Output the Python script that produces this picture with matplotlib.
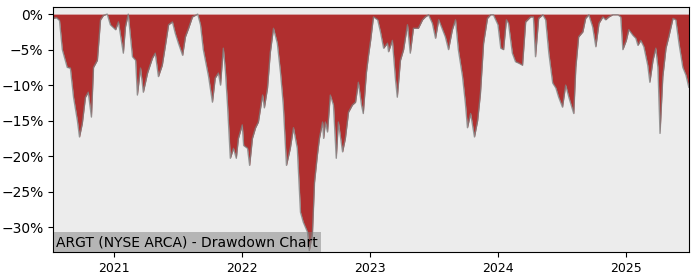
import numpy as np
import pandas as pd
import matplotlib
matplotlib.use("Agg")
import matplotlib.pyplot as plt
import matplotlib.dates as mdates
import matplotlib.ticker as mticker

# drawdown readings (percent below running peak)
dates = [
    "2020-07-13", "2020-07-22", "2020-07-31", "2020-08-08", "2020-08-22", "2020-08-31",
    "2020-09-09", "2020-09-20", "2020-09-26", "2020-10-04", "2020-10-13", "2020-10-21",
    "2020-10-30", "2020-11-05", "2020-11-16", "2020-11-25", "2020-12-03", "2020-12-14",
    "2020-12-23", "2021-01-07", "2021-01-15", "2021-01-29", "2021-02-04", "2021-02-12",
    "2021-02-24", "2021-03-05", "2021-03-10", "2021-03-19", "2021-03-27", "2021-04-08",
    "2021-04-22", "2021-04-30", "2021-05-09", "2021-05-20", "2021-05-29", "2021-06-07",
    "2021-06-18", "2021-06-26", "2021-07-05", "2021-07-17", "2021-07-25", "2021-08-03",
    "2021-08-14", "2021-08-29", "2021-09-06", "2021-09-14", "2021-09-29", "2021-10-10",
    "2021-10-18", "2021-10-27", "2021-11-02", "2021-11-10", "2021-11-16", "2021-11-22",
    "2021-11-30", "2021-12-09", "2021-12-17", "2021-12-23", "2022-01-03", "2022-01-07",
    "2022-01-18", "2022-01-24", "2022-02-01", "2022-02-10", "2022-02-18", "2022-03-02",
    "2022-03-07", "2022-03-16", "2022-03-24", "2022-04-02", "2022-04-13", "2022-04-22",
    "2022-04-30", "2022-05-09", "2022-05-20", "2022-05-29", "2022-06-09", "2022-06-18",
    "2022-06-26", "2022-07-08", "2022-07-13", "2022-07-22", "2022-07-28", "2022-08-05",
    "2022-08-11", "2022-08-20", "2022-08-23", "2022-08-28", "2022-09-03", "2022-09-11",
    "2022-09-20", "2022-09-28", "2022-10-04", "2022-10-16", "2022-10-24", "2022-11-02",
    "2022-11-13", "2022-11-22", "2022-11-30", "2022-12-09", "2022-12-14", "2022-12-23",
    "2022-12-29", "2023-01-04", "2023-01-12", "2023-01-24", "2023-02-01", "2023-02-10",
    "2023-02-21", "2023-02-24", "2023-03-07", "2023-03-16", "2023-03-21", "2023-03-30",
    "2023-04-08", "2023-04-19", "2023-04-27", "2023-05-06", "2023-05-20", "2023-06-01",
    "2023-06-09", "2023-06-18", "2023-06-29", "2023-07-08", "2023-07-17", "2023-07-28",
    "2023-08-05", "2023-08-14", "2023-08-25", "2023-09-03", "2023-09-11", "2023-09-23",
    "2023-10-01", "2023-10-07", "2023-10-16", "2023-10-27", "2023-11-05", "2023-11-13",
    "2023-11-22", "2023-12-03", "2023-12-12", "2023-12-20", "2024-01-02", "2024-01-10",
    "2024-01-18", "2024-01-26", "2024-02-01", "2024-02-12", "2024-02-21", "2024-03-01",
    "2024-03-12", "2024-03-21", "2024-04-04", "2024-04-12", "2024-04-18", "2024-04-27",
    "2024-05-09", "2024-05-17", "2024-05-26", "2024-06-06", "2024-06-15", "2024-06-23",
    "2024-07-04", "2024-07-13", "2024-07-22", "2024-08-05", "2024-08-11", "2024-08-19",
    "2024-08-31", "2024-09-08", "2024-09-17", "2024-09-28", "2024-10-07", "2024-10-16",
    "2024-10-27", "2024-11-04", "2024-11-13", "2024-11-24", "2024-12-09", "2024-12-17",
    "2024-12-23", "2025-01-02", "2025-01-09", "2025-01-21", "2025-01-29", "2025-02-04",
    "2025-02-12", "2025-02-21", "2025-03-04", "2025-03-10", "2025-03-19", "2025-03-27",
    "2025-04-02", "2025-04-08", "2025-04-16", "2025-04-25", "2025-05-03", "2025-05-15",
    "2025-05-23", "2025-06-01", "2025-06-12", "2025-06-21", "2025-06-29",
]
drawdown = [
    -0.6, -0.5, -0.9, -5.0, -7.5, -7.6,
    -11.7, -15.0, -17.3, -15.4, -11.7, -11.0,
    -14.5, -7.5, -6.5, -0.8, -0.2, 0.0,
    -1.5, -2.2, -1.1, -5.5, -1.8, 0.0,
    -6.0, -6.5, -11.4, -7.6, -11.0, -8.3,
    -6.2, -5.5, -8.8, -7.2, -4.4, -1.5,
    -1.1, -2.7, -4.1, -5.8, -3.2, -2.0,
    -0.4, 0.0, -1.5, -5.0, -8.8, -12.4,
    -9.0, -8.3, -10.0, -4.8, -8.0, -12.8,
    -20.3, -18.9, -20.3, -17.5, -15.6, -18.5,
    -18.9, -21.3, -17.5, -16.0, -15.2, -11.4,
    -13.2, -10.4, -5.4, -2.0, -4.1, -8.2,
    -12.8, -21.3, -18.9, -16.0, -18.9, -27.9,
    -29.3, -30.7, -33.3, -31.0, -23.7, -19.9,
    -17.5, -15.2, -17.5, -15.2, -16.6, -11.4,
    -12.8, -20.3, -15.2, -19.4, -17.5, -13.8,
    -12.8, -12.4, -9.6, -12.8, -14.0, -8.2,
    -5.8, -3.7, -0.4, -0.8, -2.5, -4.8,
    -4.1, -5.3, -3.7, -9.3, -11.7, -6.5,
    -5.0, -1.5, -5.5, -2.0, -2.0, -0.8,
    -0.4, -0.1, -1.3, -3.4, -0.8, -2.2,
    -3.2, -5.0, -2.2, -0.8, -5.0, -8.8,
    -12.5, -16.0, -14.0, -17.3, -15.0, -11.2,
    -4.1, -0.6, -0.1, -0.1, -1.5, -4.8,
    -5.0, -0.8, -1.3, -5.5, -6.7, -6.9,
    -7.2, -1.1, -0.4, -0.4, -6.0, -0.6,
    -0.1, -0.8, -5.5, -9.7, -10.4, -11.7,
    -13.1, -10.0, -11.7, -14.0, -7.5, -3.2,
    -2.5, -0.6, -0.1, -1.8, -4.6, -1.3,
    -0.4, -0.8, -0.4, -0.1, -0.1, -0.4,
    -5.0, -3.7, -2.2, -3.0, -3.4, -4.4,
    -3.7, -4.6, -7.2, -9.6, -6.5, -4.8,
    -7.5, -16.8, -8.8, -4.8, -3.2, -0.6,
    -0.8, -4.1, -7.5, -8.6, -10.3,
]
title = "ARGT (NYSE ARCA) - Drawdown Chart"

x = pd.to_datetime(dates)
y = np.array(drawdown)

fig, ax = plt.subplots(figsize=(7, 2.8), dpi=100)
fig.subplots_adjust(left=0.076, right=0.984, top=0.975, bottom=0.1)
ax.set_facecolor("#ececec")

ax.fill_between(x, y, 0, color="#b02f2f", lw=0)
ax.plot(x, y, color="grey", lw=1, alpha=0.8)

ax.set_xlim(x[0], x[-1])
ax.set_ylim(-33.5, 1)
ax.xaxis.set_major_locator(mdates.YearLocator())
ax.xaxis.set_major_formatter(mdates.DateFormatter("%Y"))
ax.yaxis.set_major_locator(mticker.MultipleLocator(5))
ax.yaxis.set_major_formatter(mticker.FuncFormatter(lambda v, p: f"{v:.0f}%".replace("-", "\u2212")))
ax.tick_params(labelsize=10)
ax.tick_params(axis="x", labelsize=9)

ax.text(0.005, 0.012, title, transform=ax.transAxes, fontsize=10, va="bottom", ha="left",
        bbox=dict(facecolor="grey", alpha=0.5, edgecolor="none", pad=2))

fig.savefig("out.png", dpi=100)
